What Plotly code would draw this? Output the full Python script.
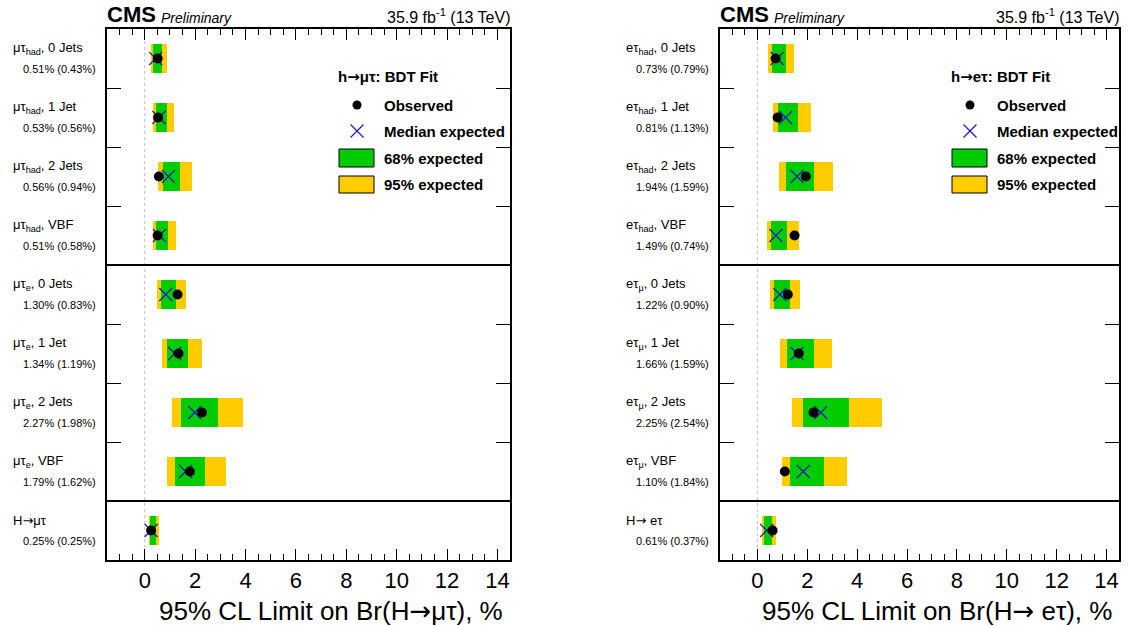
import plotly.graph_objects as go

# figure size in px
W, H = 1133, 626
TOP, BOT = 29, 560  # plot area top / bottom in px

ARROW = "<span style='font-family:DejaVu Sans'>→</span>"

# ---- data ----
rows = list(range(9))

mt_labels = ["μτ<sub>had</sub>, 0 Jets", "μτ<sub>had</sub>, 1 Jet", "μτ<sub>had</sub>, 2 Jets",
             "μτ<sub>had</sub>, VBF", "μτ<sub>e</sub>, 0 Jets", "μτ<sub>e</sub>, 1 Jet",
             "μτ<sub>e</sub>, 2 Jets", "μτ<sub>e</sub>, VBF", "H" + ARROW + "μτ"]
mt_obs = [0.51, 0.53, 0.56, 0.51, 1.30, 1.34, 2.27, 1.79, 0.25]
mt_exp = [0.43, 0.56, 0.94, 0.58, 0.83, 1.19, 1.98, 1.62, 0.25]
mt_lo95 = [0.24, 0.32, 0.52, 0.32, 0.47, 0.68, 1.08, 0.88, 0.15]
mt_lo68 = [0.32, 0.44, 0.71, 0.44, 0.64, 0.89, 1.45, 1.19, 0.19]
mt_hi68 = [0.68, 0.87, 1.40, 0.91, 1.24, 1.73, 2.89, 2.39, 0.43]
mt_hi95 = [0.88, 1.15, 1.87, 1.23, 1.64, 2.29, 3.91, 3.23, 0.56]

et_labels = ["eτ<sub>had</sub>, 0 Jets", "eτ<sub>had</sub>, 1 Jet", "eτ<sub>had</sub>, 2 Jets",
             "eτ<sub>had</sub>, VBF", "eτ<sub>μ</sub>, 0 Jets", "eτ<sub>μ</sub>, 1 Jet",
             "eτ<sub>μ</sub>, 2 Jets", "eτ<sub>μ</sub>, VBF", "H" + ARROW + " eτ"]
et_obs = [0.73, 0.81, 1.94, 1.49, 1.22, 1.66, 2.25, 1.10, 0.61]
et_exp = [0.79, 1.13, 1.59, 0.74, 0.90, 1.59, 2.54, 1.84, 0.37]
et_lo95 = [0.44, 0.63, 0.87, 0.37, 0.52, 0.89, 1.39, 1.00, 0.20]
et_lo68 = [0.60, 0.84, 1.16, 0.53, 0.68, 1.19, 1.84, 1.32, 0.28]
et_hi68 = [1.13, 1.64, 2.28, 1.20, 1.32, 2.28, 3.68, 2.67, 0.57]
et_hi95 = [1.48, 2.16, 3.03, 1.68, 1.71, 2.99, 4.99, 3.61, 0.75]

x_ticks = [0, 2, 4, 6, 8, 10, 12, 14]
separators = [3.5, 7.5]

FONT = "Liberation Sans"
GREEN = "#00cc00"
YELLOW = "#ffcc00"
BLUE = "#1a1abf"


def px(x):
    return x / W


def py(y):
    return (BOT - y) / (BOT - TOP)


panels = [
    dict(ax="", left=107, right=510, labels=mt_labels, obs=mt_obs, exp=mt_exp,
         lo95=mt_lo95, lo68=mt_lo68, hi68=mt_hi68, hi95=mt_hi95,
         legtitle="<b>h" + ARROW + "μτ: BDT Fit</b>",
         xtitle="95% CL Limit on Br(H" + ARROW + "μτ), %"),
    dict(ax="2", left=720, right=1119, labels=et_labels, obs=et_obs, exp=et_exp,
         lo95=et_lo95, lo68=et_lo68, hi68=et_hi68, hi95=et_hi95,
         legtitle="<b>h" + ARROW + "eτ: BDT Fit</b>",
         xtitle="95% CL Limit on Br(H" + ARROW + " eτ), %"),
]

fig = go.Figure()
annotations = []
shapes = []

for p in panels:
    xa, ya = "x" + p["ax"], "y" + p["ax"]
    # bands
    fig.add_trace(go.Bar(
        orientation="h", y=rows, base=p["lo95"],
        x=[h - l for h, l in zip(p["hi95"], p["lo95"])],
        width=0.5, marker=dict(color=YELLOW, line=dict(width=0)),
        xaxis=xa, yaxis=ya, showlegend=False))
    fig.add_trace(go.Bar(
        orientation="h", y=rows, base=p["lo68"],
        x=[h - l for h, l in zip(p["hi68"], p["lo68"])],
        width=0.5, marker=dict(color=GREEN, line=dict(width=0)),
        xaxis=xa, yaxis=ya, showlegend=False))
    fig.add_trace(go.Scatter(
        x=p["exp"], y=rows, mode="markers",
        marker=dict(symbol="x-thin", size=13, line=dict(width=1.2, color=BLUE)),
        xaxis=xa, yaxis=ya, showlegend=False))
    fig.add_trace(go.Scatter(
        x=p["obs"], y=rows, mode="markers",
        marker=dict(symbol="circle", size=10, color="black"),
        xaxis=xa, yaxis=ya, showlegend=False))

    # axes
    fig.update_layout({
        "xaxis" + p["ax"]: dict(
            domain=[px(p["left"]), px(p["right"])], range=[-1.5, 14.5],
            anchor=ya, tickvals=x_ticks, ticks="inside", ticklen=11,
            tickcolor="black", showline=True, linewidth=2, linecolor="black",
            mirror="ticks", showgrid=False, zeroline=False,
            tickfont=dict(family=FONT, size=22, color="black"),
            minor=dict(dtick=0.5, tick0=0, ticks="inside", ticklen=6,
                       tickcolor="black", showgrid=False)),
        "yaxis" + p["ax"]: dict(
            domain=[0, 1], range=[8.5, -0.5], anchor=xa,
            tickvals=[r + 0.5 for r in rows[:-1]], ticks="inside", ticklen=14,
            tickcolor="black", showticklabels=False, showline=True,
            linewidth=2, linecolor="black", mirror="ticks",
            showgrid=False, zeroline=False),
    })

    # zero line and separators
    shapes.append(dict(type="line", xref=xa, yref=ya + " domain", x0=0, x1=0,
                       y0=0, y1=1, layer="below",
                       line=dict(color="#bbbbbb", width=1, dash="dot")))
    for s in separators:
        shapes.append(dict(type="line", xref=xa + " domain", yref=ya, x0=0, x1=1,
                           y0=s, y1=s, line=dict(color="black", width=2)))

    # category labels
    for r, lab, o, e in zip(rows, p["labels"], p["obs"], p["exp"]):
        annotations.append(dict(
            text=lab, xref="paper", yref=ya, x=px(p["left"] - 96), y=r,
            xanchor="left", yanchor="middle", yshift=10, showarrow=False,
            font=dict(family=FONT, size=13, color="black")))
        annotations.append(dict(
            text=f"{o:.2f}% ({e:.2f}%)", xref="paper", yref=ya,
            x=px(p["left"] - 9), y=r, xanchor="right", yanchor="middle",
            yshift=-10, showarrow=False,
            font=dict(family=FONT, size=11, color="black")))

    # header
    annotations.append(dict(
        text="<b>CMS</b>", xref="paper", yref="paper", x=px(p["left"] - 2),
        y=py(15), xanchor="left", yanchor="middle", showarrow=False,
        font=dict(family=FONT, size=22, color="black")))
    annotations.append(dict(
        text="<i>Preliminary</i>", xref="paper", yref="paper", x=px(p["left"] + 52),
        y=py(18), xanchor="left", yanchor="middle", showarrow=False,
        font=dict(family=FONT, size=14, color="black")))
    annotations.append(dict(
        text="35.9 fb<sup>-1</sup> (13 TeV)", xref="paper", yref="paper",
        x=px(p["right"] + 3), y=py(16), xanchor="right", yanchor="middle",
        showarrow=False, font=dict(family=FONT, size=16, color="black")))

    # x title
    annotations.append(dict(
        text=p["xtitle"], xref="paper", yref="paper", x=px(p["right"] - 5),
        y=py(611), xanchor="right", yanchor="middle", showarrow=False,
        font=dict(family=FONT, size=26, color="black")))

    # legend
    off = p["left"] - 107
    annotations.append(dict(
        text=p["legtitle"], xref="paper", yref="paper", x=px(off + 336),
        y=py(77), xanchor="left", yanchor="middle", showarrow=False,
        font=dict(family=FONT, size=15, color="black")))
    for txt, yy in [("Observed", 105), ("Median expected", 131),
                    ("68% expected", 158), ("95% expected", 184)]:
        annotations.append(dict(
            text="<b>" + txt + "</b>", xref="paper", yref="paper",
            x=px(off + 382), y=py(yy), xanchor="left", yanchor="middle",
            showarrow=False, font=dict(family=FONT, size=15, color="black")))
    cx = off + 357
    shapes.append(dict(type="circle", xref="paper", yref="paper",
                       x0=px(cx - 4.5), x1=px(cx + 4.5), y0=py(105 + 4.5),
                       y1=py(105 - 4.5), fillcolor="black",
                       line=dict(color="black", width=0)))
    for d in (1, -1):
        shapes.append(dict(type="line", xref="paper", yref="paper",
                           x0=px(cx - 6.5), x1=px(cx + 6.5),
                           y0=py(131 - 6.5 * d), y1=py(131 + 6.5 * d),
                           line=dict(color=BLUE, width=1.2)))
    for col, y0, y1 in [(GREEN, 149, 167), (YELLOW, 176, 193)]:
        shapes.append(dict(type="rect", xref="paper", yref="paper",
                           x0=px(off + 339), x1=px(off + 374), y0=py(y1),
                           y1=py(y0), fillcolor=col,
                           line=dict(color="black", width=1)))

fig.update_layout(
    width=W, height=H,
    margin=dict(l=0, r=0, t=TOP, b=H - BOT),
    barmode="overlay", bargap=0,
    plot_bgcolor="white", paper_bgcolor="white",
    font=dict(family=FONT, color="black"),
    annotations=annotations, shapes=shapes,
    showlegend=False,
)

# page body has a default 8px margin; drop it so the figure sits at 0,0
fig.write_html("out.html", config={"displayModeBar": False},
               post_script="document.body.style.margin='0';")
